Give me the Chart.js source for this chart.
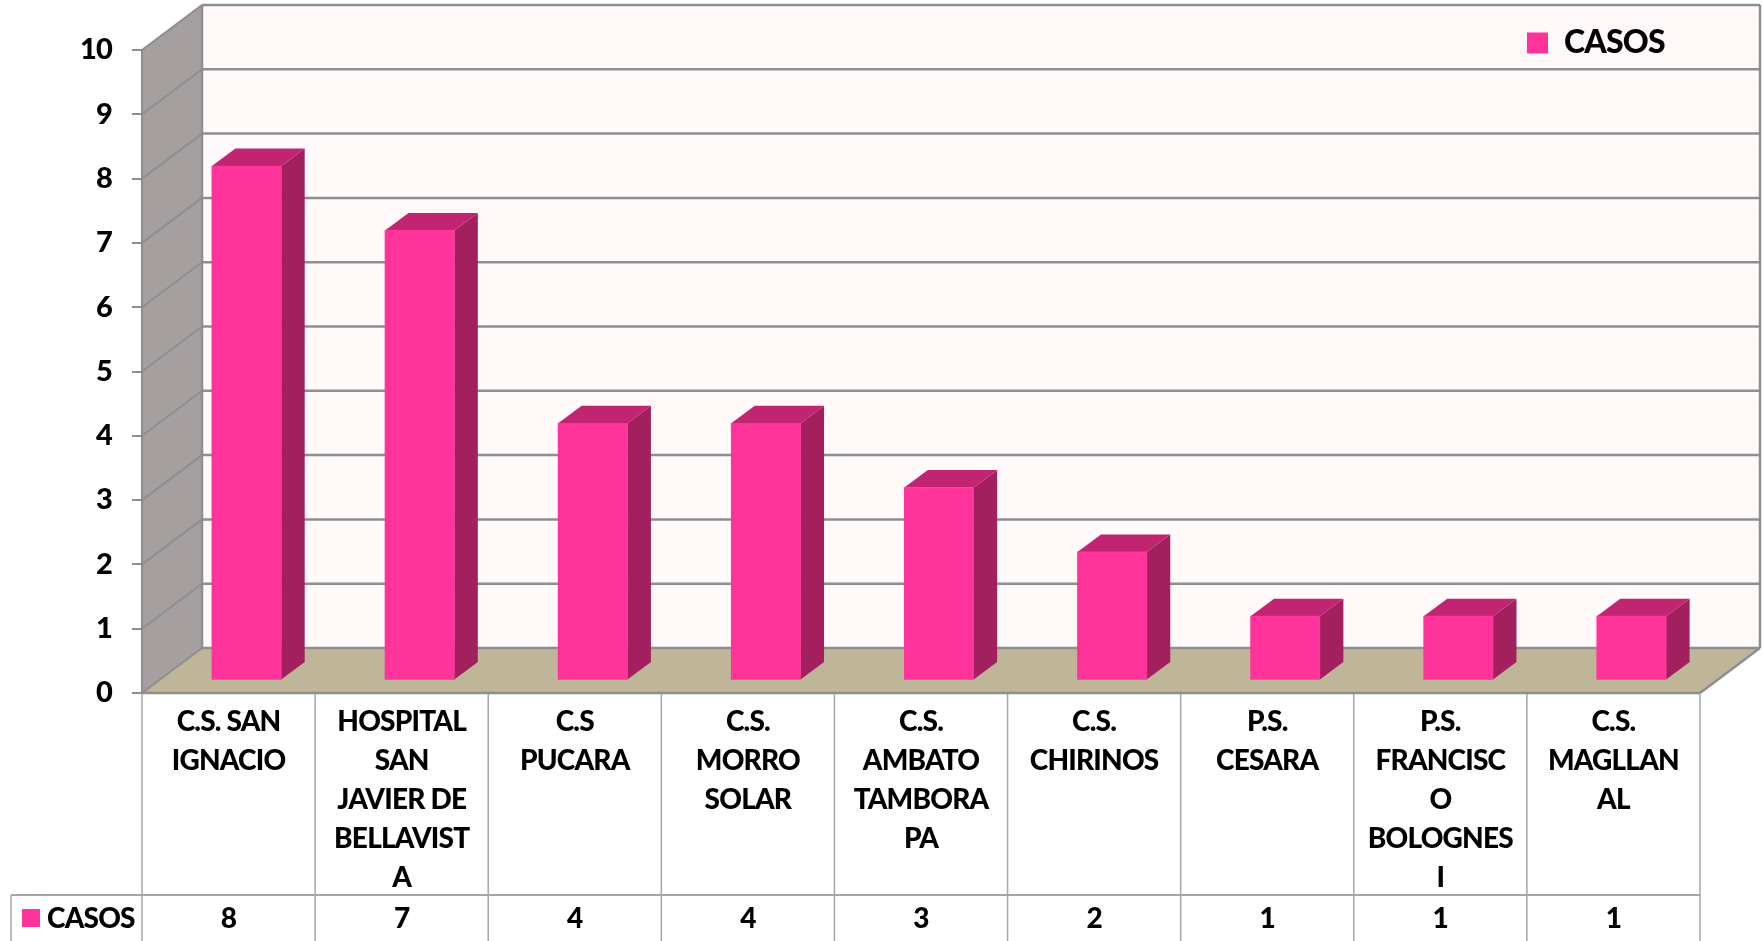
<!DOCTYPE html>
<html>
<head>
<meta charset="utf-8">
<title>CASOS</title>
<script src="https://cdn.jsdelivr.net/npm/chart.js@4"></script>
<style>
    html, body { margin: 0; padding: 0; background: #fff; overflow: hidden; }
    canvas { display: block; }
</style>
</head>
<body>
<canvas id="chart" width="1763" height="941"></canvas>
<script>
const categories = [
    ['C.S. SAN', 'IGNACIO'],
    ['HOSPITAL', 'SAN', 'JAVIER DE', 'BELLAVIST', 'A'],
    ['C.S', 'PUCARA'],
    ['C.S.', 'MORRO', 'SOLAR'],
    ['C.S.', 'AMBATO', 'TAMBORA', 'PA'],
    ['C.S.', 'CHIRINOS'],
    ['P.S.', 'CESARA'],
    ['P.S.', 'FRANCISC', 'O', 'BOLOGNES', 'I'],
    ['C.S.', 'MAGLLAN', 'AL']
];
const casos = [8, 7, 4, 4, 3, 2, 1, 1, 1];
const seriesName = 'CASOS';
const yMin = 0;
const yMax = 10;
const yStep = 1;

const PINK = '#FF3399';
const PINK_SIDE = '#A3205F';
const PINK_TOP = '#C12470';
const WALL = '#FFF9F9';
const SIDE_WALL = '#A5A09F';
const FLOOR = '#BFB699';
const LINE = '#8E8E8E';
const CELL = '#A6A6A6';
const FONT = 'Lato';
const WEIGHT = '900';

// depth of the box and of the bars, in pixels
const wallDx = 60, wallDy = 45;
const barShiftX = 18, barShiftY = 12.5;
const barDx = 23.5, barDy = 17.5;

function poly(ctx, pts, fill) {
    ctx.beginPath();
    pts.forEach((p, i) => i ? ctx.lineTo(p[0], p[1]) : ctx.moveTo(p[0], p[1]));
    ctx.closePath();
    ctx.fillStyle = fill;
    ctx.fill();
}

function seg(ctx, x1, y1, x2, y2, color, width) {
    ctx.beginPath();
    ctx.moveTo(x1, y1);
    ctx.lineTo(x2, y2);
    ctx.strokeStyle = color;
    ctx.lineWidth = width;
    ctx.stroke();
}

const box3d = {
    id: 'box3d',
    afterLayout(chart) {
        // legend sits inside the back wall, top right
        chart.legend.left = 1527;
        chart.legend.right = 1700;
        chart.legend.top = 27;
        chart.legend.bottom = 60;
    },
    beforeDraw(chart) {
        const ctx = chart.ctx;
        const { left, right } = chart.scales.x;
        const y = chart.scales.y;
        const y0 = y.getPixelForValue(yMin), yTop = y.getPixelForValue(yMax);
        ctx.letterSpacing = '-0.8px';

        poly(ctx, [[left + wallDx, yTop - wallDy], [right + wallDx, yTop - wallDy], [right + wallDx, y0 - wallDy], [left + wallDx, y0 - wallDy]], WALL);
        poly(ctx, [[left, yTop], [left + wallDx, yTop - wallDy], [left + wallDx, y0 - wallDy], [left, y0]], SIDE_WALL);
        poly(ctx, [[left, y0], [left + wallDx, y0 - wallDy], [right + wallDx, y0 - wallDy], [right, y0]], FLOOR);

        y.ticks.forEach(t => {
            const py = y.getPixelForValue(t.value);
            seg(ctx, left, py, left + wallDx, py - wallDy, LINE, 2);
            seg(ctx, left + wallDx, py - wallDy, right + wallDx, py - wallDy, LINE, 2.5);
        });
        seg(ctx, left + wallDx, yTop - wallDy, left + wallDx, y0 - wallDy, LINE, 2.5);
        seg(ctx, right + wallDx, yTop - wallDy, right + wallDx, y0 - wallDy, LINE, 2.5);
        seg(ctx, right, y0, right + wallDx, y0 - wallDy, LINE, 2.5);
    },
    beforeDatasetsDraw(chart) {
        const ctx = chart.ctx;
        chart.getDatasetMeta(0).data.forEach(bar => {
            const l = bar.x - bar.width / 2 + barShiftX;
            const r = bar.x + bar.width / 2 + barShiftX;
            const t = bar.y - barShiftY;
            const b = bar.base - barShiftY;
            poly(ctx, [[r, t], [r + barDx, t - barDy], [r + barDx, b - barDy], [r, b]], PINK_SIDE);
            poly(ctx, [[l, t], [l + barDx, t - barDy], [r + barDx, t - barDy], [r, t]], PINK_TOP);
        });
        ctx.save();
        ctx.translate(barShiftX, -barShiftY);
    },
    afterDatasetsDraw(chart) {
        chart.ctx.restore();
    },
    afterDraw(chart) {
        const ctx = chart.ctx;
        const x = chart.scales.x;
        const y0 = chart.scales.y.getPixelForValue(yMin);
        const rowTop = 895, rowBottom = 941, tableLeft = 11;
        const cellW = (x.right - x.left) / categories.length;

        for (let i = 0; i <= categories.length; i++) {
            const px = x.left + i * cellW;
            seg(ctx, px, y0, px, rowBottom, CELL, 1.5);
        }
        seg(ctx, tableLeft, rowTop, x.right, rowTop, CELL, 2);
        seg(ctx, tableLeft, rowTop, tableLeft, rowBottom, CELL, 1.5);
        seg(ctx, x.left, y0, x.right, y0, LINE, 2.5);

        ctx.save();
        ctx.fillStyle = '#000';
        ctx.font = WEIGHT + ' 28px ' + FONT;
        ctx.textAlign = 'center';
        ctx.textBaseline = 'middle';
        casos.forEach((v, i) => ctx.fillText(String(v), x.getPixelForValue(i), 919));
        ctx.textAlign = 'left';
        ctx.fillText(seriesName, 47, 919);
        ctx.fillStyle = PINK;
        ctx.fillRect(22, 909, 18, 18);
        ctx.restore();
    }
};

new Chart(document.getElementById('chart').getContext('2d'), {
    type: 'bar',
    data: {
        labels: categories,
        datasets: [{
            label: seriesName,
            data: casos,
            backgroundColor: PINK,
            borderWidth: 0,
            barThickness: 69.3,
            clip: false
        }]
    },
    plugins: [box3d],
    options: {
        responsive: false,
        animation: false,
        devicePixelRatio: 1,
        layout: { padding: { top: 50, right: 63, left: 0, bottom: 0 } },
        plugins: {
            tooltip: { enabled: false },
            legend: {
                position: 'chartArea',
                align: 'start',
                labels: {
                    boxWidth: 21,
                    boxHeight: 21,
                    padding: 0,
                    color: '#000',
                    font: { family: FONT, weight: WEIGHT, size: 32 }
                }
            }
        },
        scales: {
            x: {
                offset: true,
                border: { display: false },
                grid: { display: false },
                afterFit(axis) { axis.height = 248; },
                ticks: {
                    color: '#000',
                    autoSkip: false,
                    maxRotation: 0,
                    minRotation: 0,
                    padding: 1,
                    font: { family: FONT, weight: WEIGHT, size: 28, lineHeight: 1.393 }
                }
            },
            y: {
                min: yMin,
                max: yMax,
                border: { display: true, color: LINE, width: 2 },
                grid: { drawOnChartArea: false, drawTicks: true, tickLength: 10, color: LINE, lineWidth: 2 },
                afterFit(axis) { axis.width = 142; },
                ticks: {
                    stepSize: yStep,
                    color: '#000',
                    padding: 20,
                    font: { family: FONT, weight: WEIGHT, size: 29 }
                }
            }
        }
    }
});
</script>
</body>
</html>
